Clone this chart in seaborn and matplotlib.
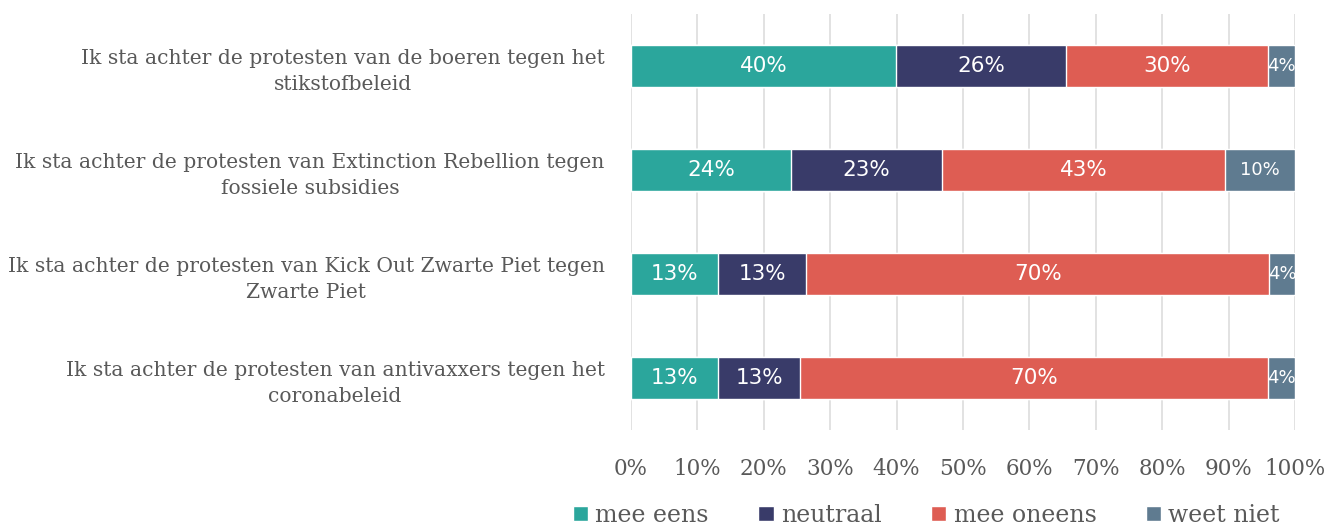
import pandas as pd
import matplotlib.pyplot as plt
import seaborn as sns
from matplotlib.patches import Patch

# Data
statements = [
    "Ik sta achter de protesten van de boeren tegen het\nstikstofbeleid",
    "Ik sta achter de protesten van Extinction Rebellion tegen\nfossiele subsidies",
    "Ik sta achter de protesten van Kick Out Zwarte Piet tegen\nZwarte Piet",
    "Ik sta achter de protesten van antivaxxers tegen het\ncoronabeleid",
]
answers = ["mee eens", "neutraal", "mee oneens", "weet niet"]
mee_eens = [39.9, 24.1, 13.1, 13.1]
neutraal = [25.6, 22.7, 13.3, 12.4]
mee_oneens = [30.4, 42.7, 69.7, 70.4]
weet_niet = [4.1, 10.5, 3.9, 4.1]
labels = [
    ["40%", "26%", "30%", "4%"],
    ["24%", "23%", "43%", "10%"],
    ["13%", "13%", "70%", "4%"],
    ["13%", "13%", "70%", "4%"],
]
colors = ["#2BA69C", "#393B69", "#DE5D53", "#5F7B90"]

df = pd.DataFrame({"Stelling": statements, "mee eens": mee_eens, "neutraal": neutraal,
                   "mee oneens": mee_oneens, "weet niet": weet_niet})
cum = df[answers].cumsum(axis=1)

sns.set_style("white")
plt.rcParams["font.family"] = ["DejaVu Serif"]
text_col = "#595959"

fig = plt.figure(figsize=(13.31, 5.27), dpi=100)
ax = fig.add_axes([0.474, 0.184, 0.499, 0.789])

# stacked bars: draw cumulative totals from the back to the front
for ans, col in reversed(list(zip(answers, colors))):
    sns.barplot(x=cum[ans], y=df["Stelling"], color=col, orient="h", width=0.4,
                ax=ax, zorder=3, saturation=1)

# segment labels
for i in range(len(statements)):
    for j, ans in enumerate(answers):
        v = df.loc[i, ans]
        x = cum.loc[i, ans] - v / 2
        fs = 13 if labels[i][j] in ("4%", "10%") else 15.5
        ax.text(x, i, labels[i][j], ha="center", va="center", color="white",
                fontsize=fs, family="DejaVu Sans", zorder=4)

ax.set_xlim(0, 100)
ax.set_ylim(3.5, -0.5)
ax.set_xticks(range(0, 101, 10))
ax.set_xticklabels([f"{t}%" for t in range(0, 101, 10)], fontsize=15.5, color=text_col)
ax.set_yticks(range(len(statements)))
ax.set_yticklabels(statements, fontsize=14.6, color=text_col, multialignment="center",
                   linespacing=1.45)
ax.tick_params(axis="y", length=0, pad=19)
ax.tick_params(axis="x", length=8, color="#DDDDDD", width=1.2, pad=12)
ax.grid(axis="x", color="#DDDDDD", linewidth=1.2, zorder=0)
ax.set_axisbelow(True)
for s in ax.spines.values():
    s.set_visible(False)
ax.set_xlabel("")
ax.set_ylabel("")

handles = [Patch(facecolor=c, label=a) for a, c in zip(answers, colors)]
fig.legend(handles=handles, loc="center", bbox_to_anchor=(0.696, 0.022), ncol=4,
           frameon=False, fontsize=17, handlelength=0.65, handleheight=0.65,
           handletextpad=0.3, columnspacing=2.1, labelcolor=text_col)

fig.savefig("out.png", dpi=100)
